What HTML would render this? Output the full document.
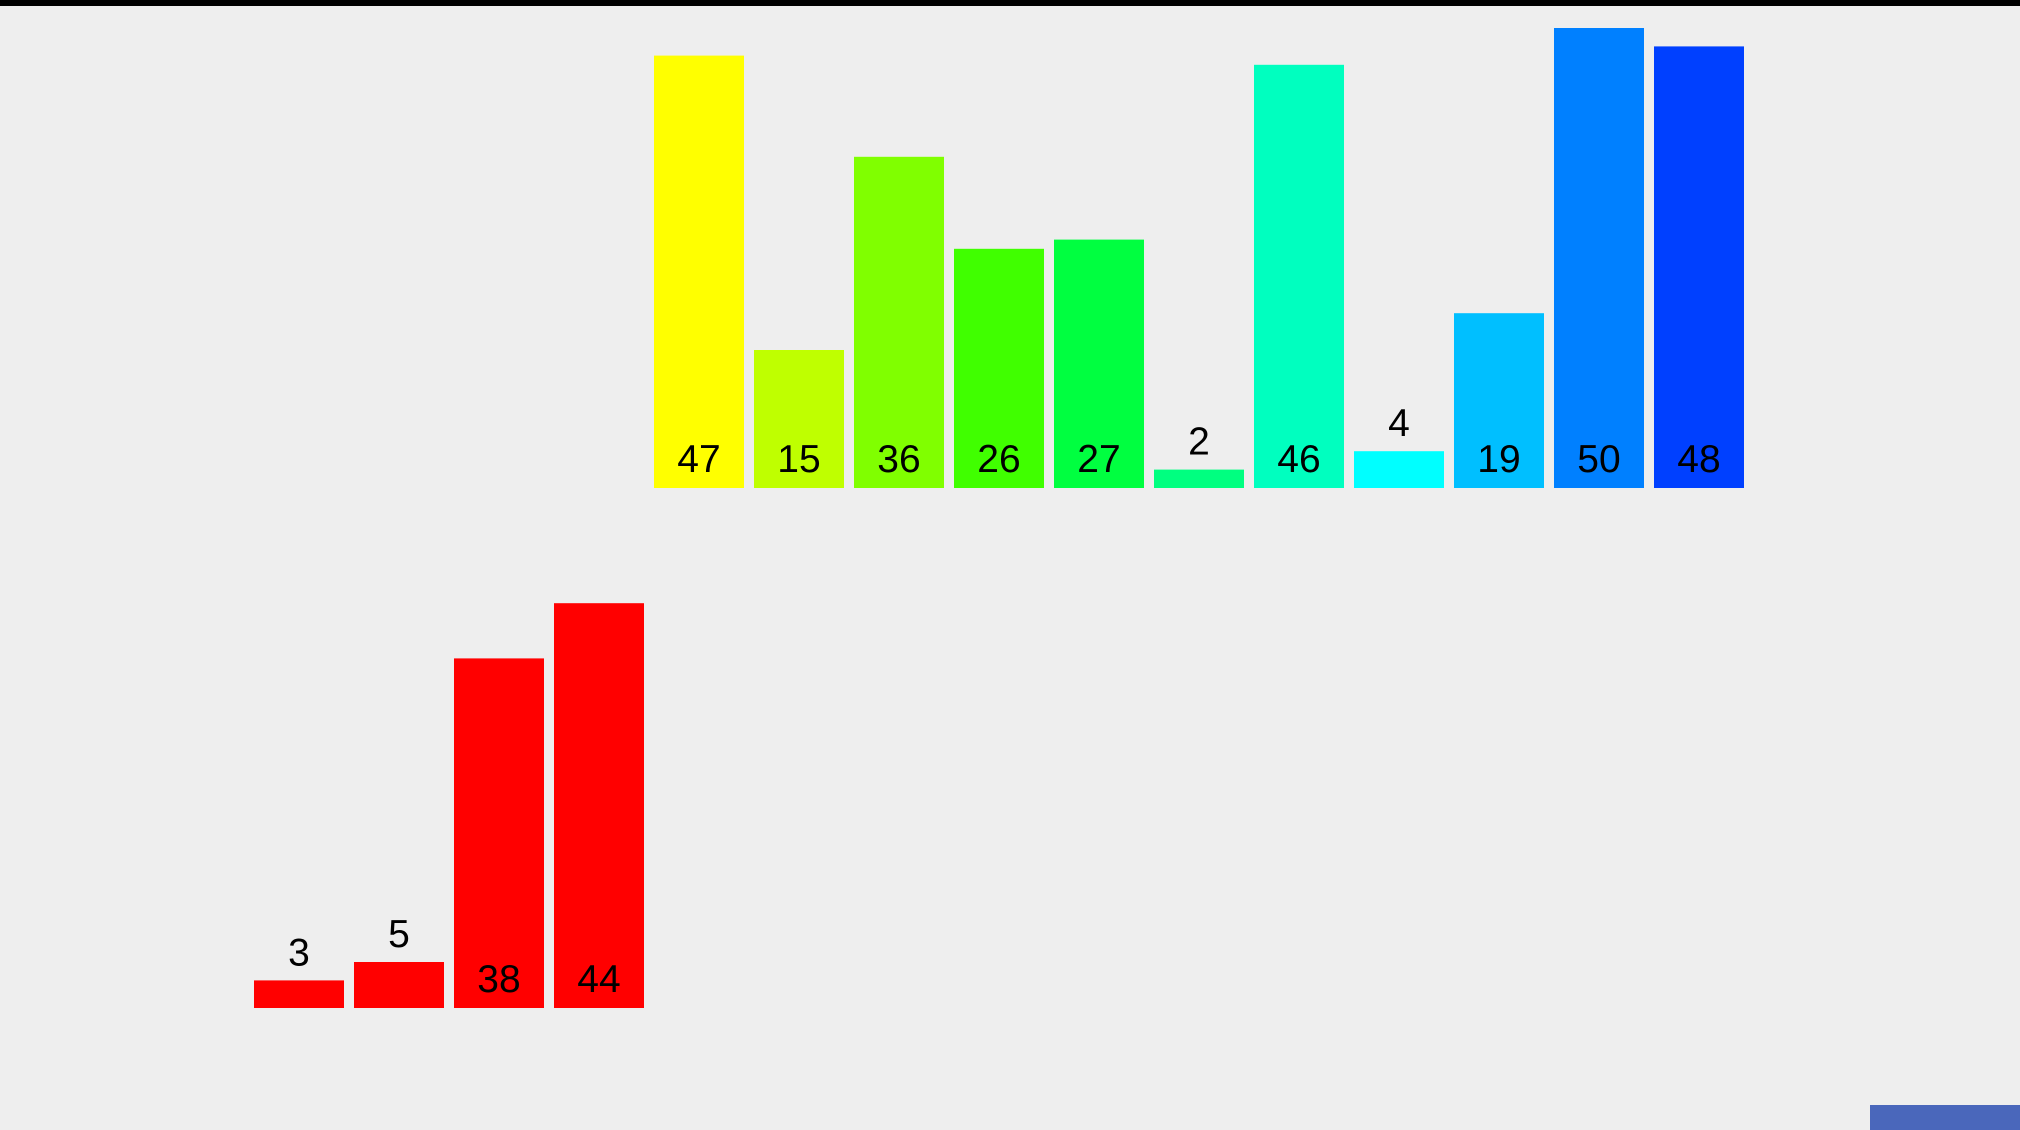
<!DOCTYPE html>
<html><head><meta charset="utf-8">
<style>
html,body{margin:0;padding:0;background:#eeeeee;width:2020px;height:1130px;overflow:hidden}
svg{display:block}
text{font-family:"Liberation Sans",Arial,sans-serif;font-size:39px;fill:#000;text-anchor:middle}
</style></head>
<body>
<svg id="chart" width="2020" height="1130">
<rect x="0" y="0" width="2020" height="6" fill="#000"/>
<rect x="1870" y="1105" width="150" height="25" fill="#4a67bb"/>
</svg>
<script>
const topValues = [47, 15, 36, 26, 27, 2, 46, 4, 19, 50, 48];
const topColors = ["#ffff00","#bfff00","#80ff00","#40ff00","#00ff40","#00ff80","#00ffbf","#00ffff","#00bfff","#0080ff","#0040ff"];
const bottomValues = [3, 5, 38, 44];
const bottomColors = ["#ff0000","#ff0000","#ff0000","#ff0000"];

const NS = "http://www.w3.org/2000/svg";
const svg = document.getElementById('chart');
const unit = 9.2;
function yScale(v){ return v * unit; }
function xScale(i, x0){ return x0 + i * 100; }

function drawGroup(values, colors, x0, baseY, prefix){
  values.forEach((v, i) => {
    const h = yScale(v);
    const x = xScale(i, x0);
    const r = document.createElementNS(NS, 'rect');
    r.setAttribute('x', x);
    r.setAttribute('y', baseY - h);
    r.setAttribute('width', 90);
    r.setAttribute('height', h);
    r.setAttribute('fill', colors[i]);
    
    
    svg.appendChild(r);
    const t = document.createElementNS(NS, 'text');
    t.setAttribute('x', x + 45);
    const inside = h > 60;
    t.setAttribute('y', inside ? baseY - 16 : baseY - h - 15);
    t.textContent = v;
    
    
    svg.appendChild(t);
  });
}
drawGroup(topValues, topColors, 654, 488, 'top');
drawGroup(bottomValues, bottomColors, 254, 1008, 'bottom');
</script>
</body></html>
